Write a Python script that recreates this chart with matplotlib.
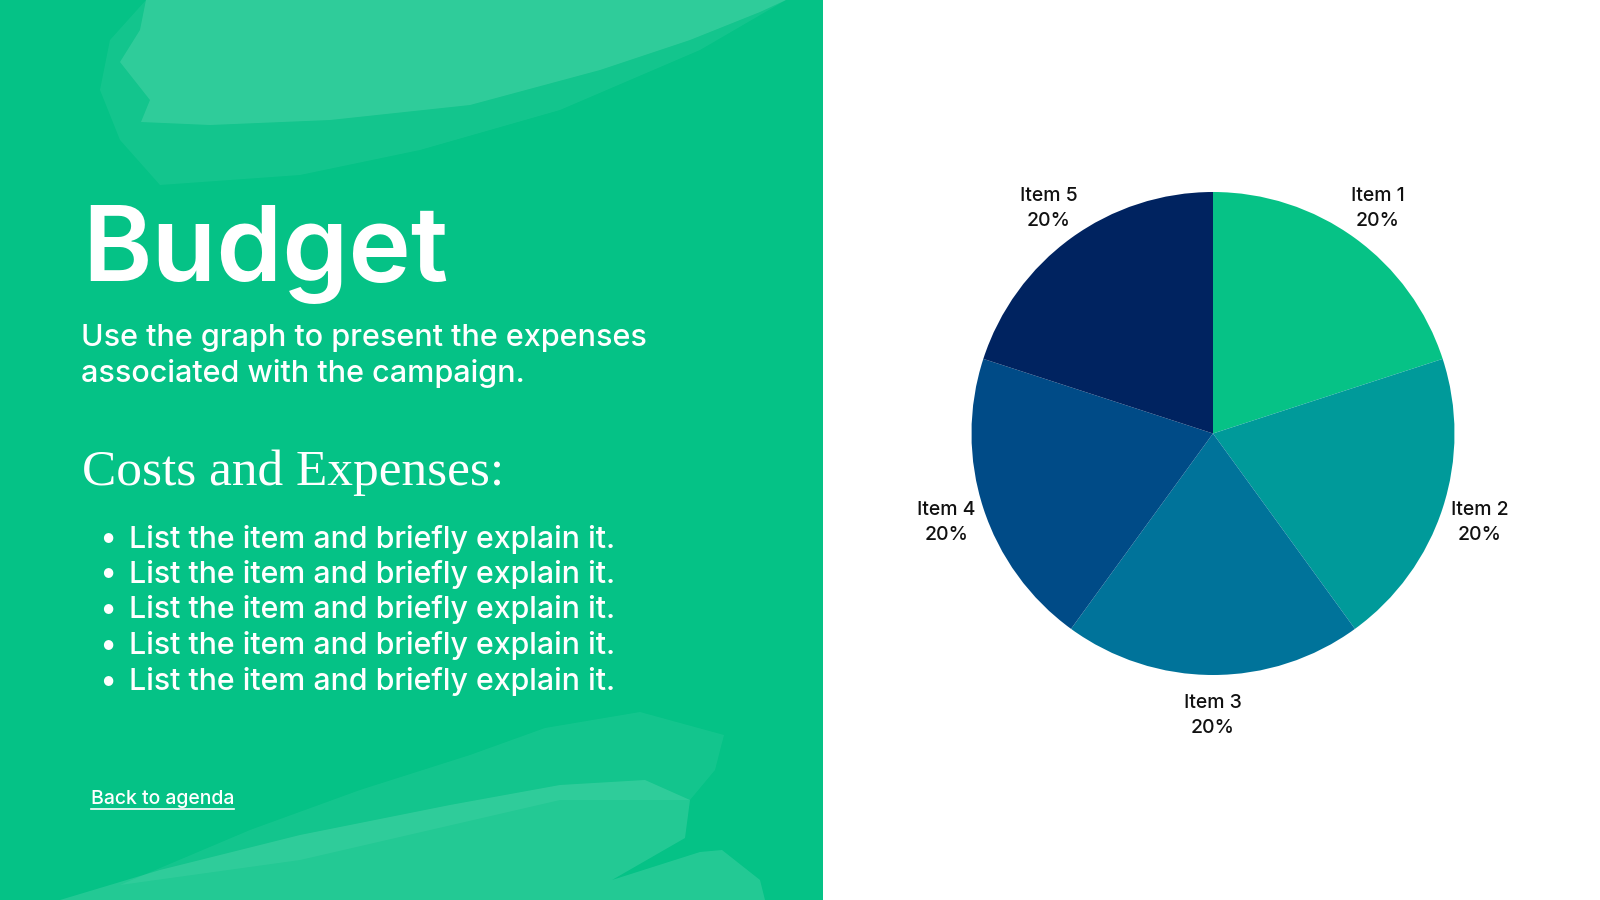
import matplotlib
matplotlib.use("Agg")
import matplotlib.pyplot as plt
import matplotlib.transforms as mtransforms
from matplotlib.patches import Polygon, Rectangle

# ---- data ----
categories = ["Item 1", "Item 2", "Item 3", "Item 4", "Item 5"]
shares = [20, 20, 20, 20, 20]
slice_colors = ["#06C286", "#009A9A", "#00739A", "#004B87", "#002360"]

title = "Budget"
subtitle = "Use the graph to present the expenses\nassociated with the campaign."
section = "Costs and Expenses:"
bullets = ["List the item and briefly explain it."] * 5
link = "Back to agenda"

GREEN = "#05C286"
SANS = ["Inter", "Lato", "DejaVu Sans"]

W, H = 1600, 900
fig = plt.figure(figsize=(16, 9), dpi=100)
fig.patch.set_facecolor("white")

# background/panel axes in pixel coordinates
bg = fig.add_axes([0, 0, 1, 1])
bg.set_xlim(0, W)
bg.set_ylim(H, 0)
bg.axis("off")
bg.add_patch(Rectangle((0, 0), 823, H, facecolor=GREEN, edgecolor="none", zorder=0))

# brush strokes (decorative)
light = dict(facecolor="white", edgecolor="none", zorder=1)
top_solid = [(146, 0), (786, 0), (760, 12), (690, 40), (600, 70), (470, 105), (330, 120),
             (210, 125), (141, 122), (150, 100), (120, 62), (140, 30)]
top_tex = [(110, 40), (146, 0), (786, 0), (700, 50), (560, 110), (420, 150),
           (300, 175), (160, 185), (120, 140), (100, 90)]
bg.add_patch(Polygon(top_solid, alpha=0.12, **light))
bg.add_patch(Polygon(top_tex, alpha=0.06, **light))
bot_solid = [(60, 900), (160, 870), (300, 835), (450, 805), (560, 785), (645, 780),
             (690, 800), (685, 838), (612, 880), (700, 852), (722, 850), (760, 880),
             (765, 900)]
bot_tex = [(120, 885), (250, 830), (360, 790), (470, 755), (545, 728), (640, 712),
           (724, 735), (715, 770), (690, 800), (560, 800), (300, 860)]
bg.add_patch(Polygon(bot_solid, alpha=0.12, **light))
bg.add_patch(Polygon(bot_tex, alpha=0.06, **light))

# texts
bg.text(82, 281, title, color="white", fontsize=76, fontweight=600, family=SANS,
        va="baseline", ha="left", zorder=3)
bg.text(81, 356, subtitle, color="white", fontsize=22.0, fontweight=500, family=SANS,
        va="center", ha="left", linespacing=1.3, zorder=3)
bg.text(82, 485, section, color="white", fontsize=37,
        family=["Liberation Serif", "DejaVu Serif"], va="baseline", ha="left", zorder=3)
bullet_y = [539, 574.5, 610, 646, 682]
for yy, txt in zip(bullet_y, bullets):
    bg.text(108, yy, "\u2022", color="white", fontsize=22, family=SANS,
            va="center", ha="center", zorder=3)
    bg.text(129, yy, txt, color="white", fontsize=21.8, fontweight=500, family=SANS,
            va="center", ha="left", zorder=3)
lk = bg.text(91, 799, link, color="white", fontsize=14, fontweight=500, family=SANS,
             va="center", ha="left", zorder=3)
fig.canvas.draw()
bb = lk.get_window_extent(renderer=fig.canvas.get_renderer())
x0, x1 = bb.x0, bb.x1
yline = 809
bg.plot([x0, x1], [yline, yline], color="white", lw=1.2, zorder=3)

# pie axes
cx, cy, r = 1213, 433.5, 241.5
half = 1.5 * r
ax = fig.add_axes([(cx - half) / W, (H - cy - half) / H, 2 * half / W, 2 * half / H])
labels = [f"{c}\n{v}%" for c, v in zip(categories, shares)]
wedges, texts = ax.pie(shares, labels=labels, colors=slice_colors, startangle=90,
                       counterclock=False, labeldistance=1.16, radius=1,
                       wedgeprops=dict(linewidth=0),
                       textprops=dict(ha="center", va="center", fontsize=14,
                                      fontweight=500, family=SANS,
                                      color="#111111", linespacing=1.5))
for t in texts:
    t.set_transform(mtransforms.offset_copy(t.get_transform(), fig=fig,
                                            x=0, y=-2, units="dots"))
ax.set_xlim(-1.5, 1.5)
ax.set_ylim(-1.5, 1.5)
ax.set_aspect("equal")
ax.axis("off")

fig.savefig("out.png", dpi=100, facecolor=fig.get_facecolor())
